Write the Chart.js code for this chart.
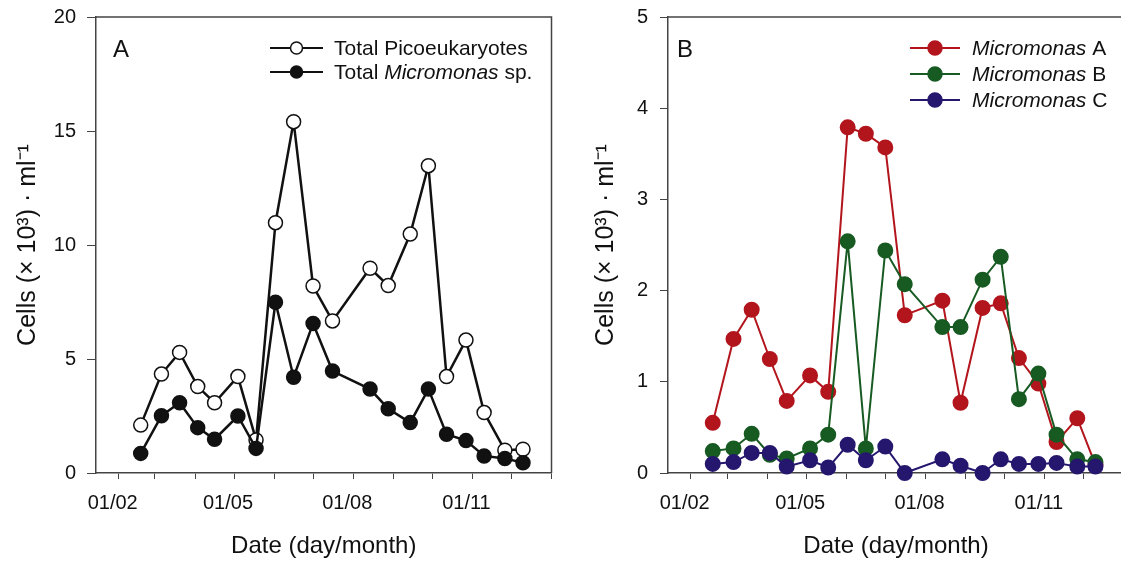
<!DOCTYPE html>
<html>
<head>
<meta charset="utf-8">
<script src="https://cdn.jsdelivr.net/npm/chart.js@4.4.1/dist/chart.umd.min.js"></script>
<style>
  html, body { margin: 0; padding: 0; background: #fff; overflow: hidden; }
  #wrap { position: relative; width: 1121px; height: 561px; overflow: hidden; }
  #chartA { position: absolute; left: 0; top: 0; }
  #chartB { position: absolute; left: 560px; top: 0; }
</style>
</head>
<body>
<div id="wrap">
  <canvas id="chartA" width="560" height="561"></canvas>
  <canvas id="chartB" width="573" height="561"></canvas>
</div>
<script>
// sampling dates as day of year
const sampleDays = [49, 65, 79, 93, 106, 124, 138, 153, 167, 182, 197, 226, 240, 257, 271, 285, 300, 314, 330, 344];

// panel A, cells x 10^3 per ml
const totalPico = [2.1, 4.34, 5.29, 3.79, 3.08, 4.23, 1.45, 10.98, 15.41, 8.2, 6.67, 8.98, 8.22, 10.48, 13.48, 4.23, 5.83, 2.65, 1.0, 1.04];
const totalMicromonas = [0.86, 2.51, 3.08, 1.99, 1.48, 2.5, 1.08, 7.49, 4.2, 6.56, 4.47, 3.68, 2.82, 2.21, 3.68, 1.7, 1.42, 0.75, 0.64, 0.45];

// panel B, clades
const cladeA = [0.55, 1.47, 1.79, 1.25, 0.79, 1.07, 0.89, 3.79, 3.72, 3.57, 1.73, 1.89, 0.77, 1.81, 1.86, 1.26, 0.98, 0.34, 0.6, 0.09];
const cladeB = [0.24, 0.27, 0.43, 0.2, 0.16, 0.27, 0.42, 2.54, 0.27, 2.44, 2.07, 1.6, 1.6, 2.12, 2.37, 0.81, 1.09, 0.42, 0.15, 0.12];
const cladeC = [0.1, 0.12, 0.22, 0.22, 0.07, 0.14, 0.06, 0.31, 0.14, 0.29, 0.0, 0.15, 0.08, 0.0, 0.15, 0.1, 0.1, 0.11, 0.07, 0.07];

// x axis: a tick on the first of each month, labels every third month
const monthStarts = [32, 60, 91, 121, 152, 182, 213, 244, 274, 305, 335, 366];
const monthLabels = { 32: '01/02', 121: '01/05', 213: '01/08', 305: '01/11' };

const FONT = '"Liberation Sans", Arial, Helvetica, sans-serif';
const yTitle = 'Cells (\u00d7 10\u00b3) \u00b7 ml\u207b\u00b9';

function toPoints(vals) {
  return vals.map((v, i) => ({ x: sampleDays[i], y: v }));
}

// draws the top/right frame, the panel letter and the legend
const panelDeco = {
  id: 'panelDeco',
  afterDraw(chart, args, opts) {
    const ctx = chart.ctx;
    const a = chart.chartArea;
    ctx.save();
    ctx.strokeStyle = '#444';
    ctx.lineWidth = 1.5;
    ctx.beginPath();
    ctx.moveTo(a.left, a.top);
    ctx.lineTo(a.right, a.top);
    ctx.lineTo(a.right, a.bottom);
    ctx.stroke();

    ctx.fillStyle = '#111';
    ctx.font = '24px ' + FONT;
    ctx.textBaseline = 'alphabetic';
    ctx.fillText(opts.letter, opts.letterX, 57);

    opts.items.forEach((it, i) => {
      const y = opts.rows[i];
      ctx.strokeStyle = it.color;
      ctx.lineWidth = 2;
      ctx.beginPath();
      ctx.moveTo(opts.lineX0, y);
      ctx.lineTo(opts.lineX1, y);
      ctx.stroke();
      ctx.beginPath();
      ctx.arc((opts.lineX0 + opts.lineX1) / 2, y, opts.r, 0, Math.PI * 2);
      ctx.fillStyle = it.fill;
      ctx.fill();
      ctx.lineWidth = 1.5;
      ctx.stroke();
      let x = opts.textX;
      ctx.fillStyle = '#111';
      ctx.textBaseline = 'middle';
      it.parts.forEach(p => {
        ctx.font = (p[1] ? 'italic ' : '') + '21px ' + FONT;
        ctx.fillText(p[0], x, y + 1);
        x += ctx.measureText(p[0]).width;
      });
    });
    ctx.restore();
  }
};

function makeOptions(yMax, yStep, yWidth, yTick, yPad, titlePad, padRight, deco) {
  return {
    responsive: false,
    animation: false,
    layout: { padding: { top: 17, right: padRight, left: 0, bottom: 0 } },
    plugins: {
      legend: { display: false },
      tooltip: { enabled: false },
      panelDeco: deco
    },
    scales: {
      x: {
        type: 'linear',
        min: 14.5,
        max: 366,
        afterBuildTicks(scale) {
          scale.ticks = monthStarts.map(v => ({ value: v }));
        },
        afterFit(scale) {
          scale.height = 88;
          scale.paddingLeft = 0;
          scale.paddingRight = 0;
        },
        border: { display: true, color: '#444', width: 1.5 },
        grid: { drawOnChartArea: false, drawTicks: true, tickLength: 6, color: '#444', lineWidth: 1 },
        ticks: {
          autoSkip: false,
          maxRotation: 0,
          padding: 12,
          labelOffset: -6,
          color: '#111',
          font: { family: FONT, size: 20 },
          callback: (v) => monthLabels[v] || ''
        },
        title: {
          display: true,
          text: 'Date (day/month)',
          color: '#111',
          font: { family: FONT, size: 24 },
          padding: { top: 0, bottom: 0 }
        }
      },
      y: {
        min: 0,
        max: yMax,
        afterFit(scale) {
          scale.width = yWidth;
          scale.paddingTop = 0;
          scale.paddingBottom = 0;
        },
        border: { display: true, color: '#444', width: 1.5 },
        grid: { drawOnChartArea: false, drawTicks: true, tickLength: yTick, color: '#444', lineWidth: 1 },
        ticks: {
          stepSize: yStep,
          padding: yPad,
          color: '#111',
          font: { family: FONT, size: 20 }
        },
        title: {
          display: true,
          text: yTitle,
          color: '#111',
          font: { family: FONT, size: 25 },
          padding: { top: titlePad, bottom: 0 }
        }
      }
    }
  };
}

new Chart(document.getElementById('chartA'), {
  type: 'line',
  plugins: [panelDeco],
  data: {
    datasets: [{
      label: 'Total Picoeukaryotes',
      data: toPoints(totalPico),
      borderColor: '#111',
      borderWidth: 2.5,
      pointBackgroundColor: '#fff',
      pointBorderColor: '#111',
      pointBorderWidth: 1.5,
      pointRadius: 7,
      clip: false,
      order: 1
    }, {
      label: 'Total Micromonas sp.',
      data: toPoints(totalMicromonas),
      borderColor: '#111',
      borderWidth: 2.5,
      pointBackgroundColor: '#111',
      pointBorderColor: '#111',
      pointBorderWidth: 1.5,
      pointRadius: 7,
      clip: false,
      order: 0
    }]
  },
  options: makeOptions(20, 5, 96, 9, 11, 13, 8, {
    letter: 'A', letterX: 113,
    lineX0: 270, lineX1: 323, textX: 334, r: 6,
    rows: [48, 72],
    items: [
      { color: '#111', fill: '#fff', parts: [['Total Picoeukaryotes', false]] },
      { color: '#111', fill: '#111', parts: [['Total ', false], ['Micromonas', true], [' sp.', false]] }
    ]
  })
});

const RED = '#b3151d', GREEN = '#175a22', BLUE = '#25176e';

new Chart(document.getElementById('chartB'), {
  type: 'line',
  plugins: [panelDeco],
  data: {
    datasets: [
      { label: 'Micromonas A', data: toPoints(cladeA), color: RED, order: 3 },
      { label: 'Micromonas B', data: toPoints(cladeB), color: GREEN, order: 2 },
      { label: 'Micromonas C', data: toPoints(cladeC), color: BLUE, order: 1 }
    ].map(d => ({
      label: d.label,
      data: d.data,
      borderColor: d.color,
      borderWidth: 2,
      pointBackgroundColor: d.color,
      pointBorderColor: d.color,
      pointRadius: 7,
      clip: false,
      order: d.order
    }))
  },
  options: makeOptions(5, 1, 108, 8, 12, 31, 2.5, {
    letter: 'B', letterX: 117,
    lineX0: 350, lineX1: 400, textX: 412, r: 7,
    rows: [48, 74, 100],
    items: [
      { color: RED, fill: RED, parts: [['Micromonas', true], [' A', false]] },
      { color: GREEN, fill: GREEN, parts: [['Micromonas', true], [' B', false]] },
      { color: BLUE, fill: BLUE, parts: [['Micromonas', true], [' C', false]] }
    ]
  })
});
</script>
</body>
</html>
